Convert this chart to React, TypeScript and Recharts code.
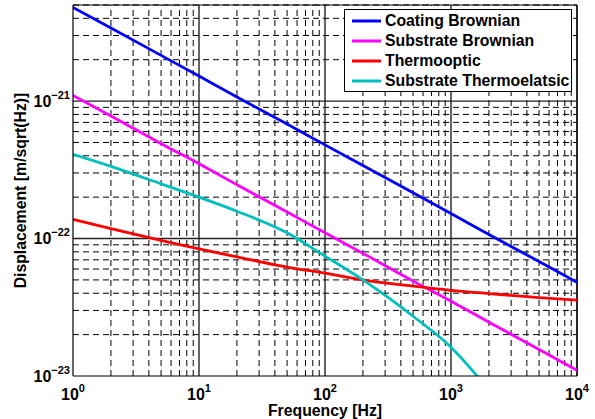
import React from "react";
import {Label, Legend, Line, LineChart, ReferenceLine, XAxis, YAxis} from "recharts";

// frequency samples [Hz]
const freqs = [1, 2, 5, 10, 20, 50, 100, 200, 500, 1000, 2000, 5000, 10000];

// displacement noise [m/sqrt(Hz)]
const coatingBrownian = [4.8e-21, 3.4e-21, 2.15e-21, 1.52e-21, 1.07e-21, 6.8e-22, 4.8e-22, 3.4e-22, 2.15e-22, 1.52e-22, 1.07e-22, 6.8e-23, 4.8e-23];
const substrateBrownian = [1.1e-21, 7.8e-22, 4.9e-22, 3.5e-22, 2.46e-22, 1.56e-22, 1.1e-22, 7.8e-23, 4.9e-23, 3.5e-23, 2.46e-23, 1.56e-23, 1.1e-23];
const thermooptic = [1.38e-22, 1.18e-22, 9.7e-23, 8.4e-23, 7.35e-23, 6.2e-23, 5.6e-23, 5.0e-23, 4.5e-23, 4.2e-23, 3.98e-23, 3.72e-23, 3.57e-23];
const substrateThermoelastic = [4.1e-22, 3.35e-22, 2.5e-22, 2.0e-22, 1.58e-22, 1.1e-22, 7.45e-23, 5.0e-23, 2.72e-23, 1.62e-23, 7.9e-24, null, null];

const xDomain = [1, 10000];
const yDomain = [1e-23, 5e-21];
const xDecades = [1, 10, 100, 1000, 10000];
const yDecades = [1e-23, 1e-22, 1e-21];
const minorSteps = [2, 3, 4, 5, 6, 7, 8, 9];

const series = [
  {key: "coating", name: "Coating Brownian", color: "#0000ff"},
  {key: "substrate", name: "Substrate Brownian", color: "#ff00ff"},
  {key: "thermooptic", name: "Thermooptic", color: "#ff0000"},
  {key: "thermoelastic", name: "Substrate Thermoelatsic", color: "#00bfbf"},
];

const rows = freqs.map((f, i) => ({
  f,
  coating: coatingBrownian[i],
  substrate: substrateBrownian[i],
  thermooptic: thermooptic[i],
  thermoelastic: substrateThermoelastic[i],
}));

const xMinor = xDecades.slice(0, -1).flatMap((d) => minorSteps.map((s) => s * d));
const yMinor = yDecades
  .flatMap((d) => minorSteps.map((s) => s * d))
  .filter((v) => v < yDomain[1] * 1.0001);

const FONT = "'Liberation Sans', Arial, Helvetica, sans-serif";

const expOf = (v: number) => {
  const e = Math.round(Math.log10(v));
  return e < 0 ? "\u2212" + Math.abs(e) : String(e);
};

const XTick = (props: any) => {
  const {x, y, payload} = props;
  return (
    <text x={x} y={y + 24} textAnchor="middle" fontFamily={FONT} fontWeight="bold" fontSize={16} fill="#000">
      10<tspan dy={-8} fontSize={11}>{expOf(payload.value)}</tspan>
    </text>
  );
};

const YTick = (props: any) => {
  const {x, y, payload} = props;
  return (
    <text x={x - 3} y={y + 5.5} textAnchor="end" fontFamily={FONT} fontWeight="bold" fontSize={16} fill="#000">
      10<tspan dy={-8} fontSize={11}>{expOf(payload.value)}</tspan>
    </text>
  );
};

const LegendBox = () => (
  <div
    style={{
      boxSizing: "border-box",
      width: 228,
      height: 83,
      border: "1px solid #000",
      background: "#fff",
      padding: "1px 0 0 7px",
      fontFamily: FONT,
      fontWeight: "bold",
      fontSize: 15.8,
      color: "#000",
    }}
  >
    {series.map((s) => (
      <div key={s.key} style={{display: "flex", alignItems: "center", height: 20, whiteSpace: "nowrap"}}>
        <svg width={29} height={4} style={{marginRight: 4}}>
          <line x1={0} y1={2} x2={29} y2={2} stroke={s.color} strokeWidth={3}/>
        </svg>
        <span>{s.name}</span>
      </div>
    ))}
  </div>
);

export default function App() {
  return (
    <div style={{position: "absolute", left: 0, top: 0, background: "#fff"}}>
      <LineChart width={595} height={419} data={rows} margin={{top: 5, right: 18, bottom: 0, left: 0}}>
        <XAxis
          dataKey="f"
          type="number"
          scale="log"
          domain={xDomain}
          ticks={xDecades}
          interval={0}
          allowDataOverflow
          height={43}
          tickSize={0}
          tickMargin={0}
          tickLine={false}
          axisLine={{stroke: "#000", strokeWidth: 1.2}}
          tick={<XTick/>}
        >
          <Label
            content={(p: any) => (
              <text
                x={p.viewBox.x + p.viewBox.width / 2}
                y={p.viewBox.y + 40}
                textAnchor="middle"
                fontFamily={FONT}
                fontWeight="bold"
                fontSize={15.8}
                fill="#000"
              >
                Frequency [Hz]
              </text>
            )}
          />
        </XAxis>
        <YAxis
          type="number"
          scale="log"
          domain={yDomain}
          ticks={yDecades}
          interval={0}
          allowDataOverflow
          width={73}
          tickSize={0}
          tickMargin={0}
          tickLine={false}
          axisLine={{stroke: "#000", strokeWidth: 1.2}}
          tick={<YTick/>}
        >
          <Label
            content={(p: any) => {
              const cy = p.viewBox.y + p.viewBox.height / 2;
              return (
                <text
                  x={26}
                  y={cy}
                  transform={`rotate(-90 26 ${cy})`}
                  textAnchor="middle"
                  fontFamily={FONT}
                  fontWeight="bold"
                  fontSize={15.8}
                  fill="#000"
                >
                  Displacement [m/sqrt(Hz)]
                </text>
              );
            }}
          />
        </YAxis>

        {xMinor.map((v) => (
          <ReferenceLine key={`xm${v}`} x={v} ifOverflow="visible" stroke="#000" strokeWidth={1} strokeDasharray="6 4"/>
        ))}
        {yMinor.map((v) => (
          <ReferenceLine key={`ym${v}`} y={v} ifOverflow="visible" stroke="#000" strokeWidth={1} strokeDasharray="6 4"/>
        ))}
        {xDecades.slice(1).map((v) => (
          <ReferenceLine key={`xM${v}`} x={v} ifOverflow="visible" stroke="#222" strokeWidth={1.4}/>
        ))}
        {yDecades.slice(1).map((v) => (
          <ReferenceLine key={`yM${v}`} y={v} ifOverflow="visible" stroke="#222" strokeWidth={1.4}/>
        ))}
        <ReferenceLine y={yDomain[1]} ifOverflow="visible" stroke="#000" strokeWidth={1.2}/>
        <ReferenceLine x={xDomain[1]} ifOverflow="visible" stroke="#000" strokeWidth={1.2}/>

        {series.map((s) => (
          <Line
            key={s.key}
            dataKey={s.key}
            name={s.name}
            type="monotone"
            stroke={s.color}
            strokeWidth={2.8}
            dot={false}
            activeDot={false}
            isAnimationActive={false}
          />
        ))}

        <Legend
          layout="vertical"
          align="center"
          verticalAlign="middle"
          wrapperStyle={{left: 344, top: 9, width: 228, height: 83}}
          content={<LegendBox/>}
        />
      </LineChart>
    </div>
  );
}
